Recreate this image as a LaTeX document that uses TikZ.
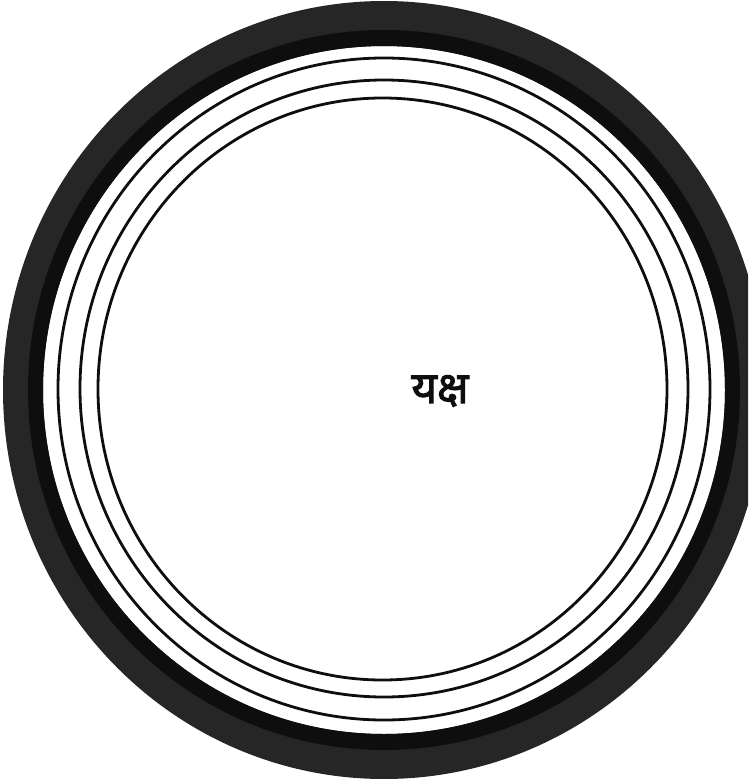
\documentclass[tikz,border=0pt]{standalone}
\usepackage{fontspec}
\newfontfamily\devfont[Script=Devanagari,FakeBold=2.2]{Noto Sans}
\definecolor{ink}{HTML}{0E0E0E}
\definecolor{band}{HTML}{262626}
\tikzset{
  bandfill/.style={fill=band,even odd rule},
  bandcore/.style={fill=ink,even odd rule},
  ringline/.style={draw=ink,line width=2.8pt},
  wordlabel/.style={font=\devfont\fontsize{44}{50}\selectfont,text=ink,inner sep=0pt}
}
\begin{document}
\begin{tikzpicture}[x=1pt,y=-1pt]
    \useasboundingbox (0,0) rectangle (748,779);
    \clip (0,0) rectangle (748,779);
    \coordinate (c) at (384,390);

    % dark outer band
    \fill[bandfill] (c) ellipse [x radius=381pt,y radius=389pt]
                    (c) ellipse [x radius=341pt,y radius=344pt];
    \fill[bandcore] (c) ellipse [x radius=356pt,y radius=360pt]
                    (c) ellipse [x radius=341pt,y radius=344pt];

    % thin rings
    \draw[ringline] (384,389) ellipse [x radius=326pt,y radius=331pt];
    \draw[ringline] (384,388.5) ellipse [x radius=304pt,y radius=308.5pt];
    \draw[ringline] (382.5,389) ellipse [x radius=284.5pt,y radius=291pt];

    \node[wordlabel] (yaksha) at (440,391) {यक्ष};
\end{tikzpicture}
\end{document}
